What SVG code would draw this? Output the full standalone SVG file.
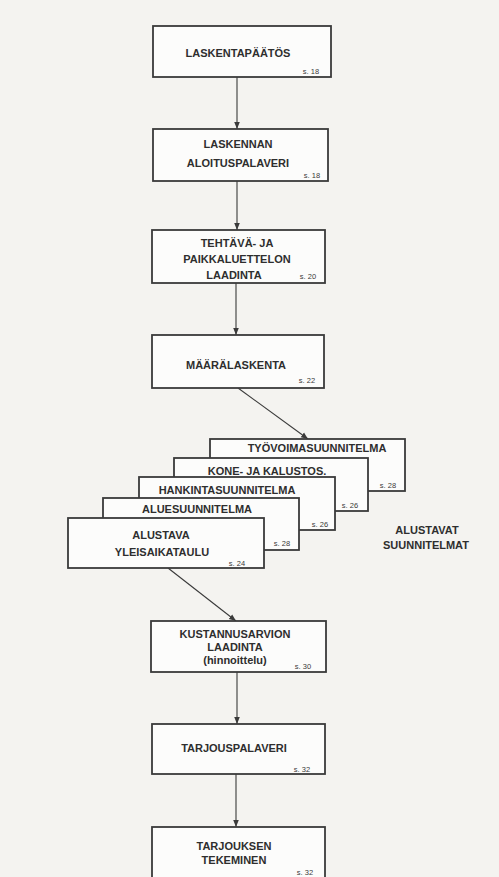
<svg xmlns="http://www.w3.org/2000/svg" width="499" height="877" viewBox="0 0 499 877">
<defs>
<style>
.bg{fill:#f4f3f0}
.box{fill:#fcfcfb;stroke:#3a3a3a;stroke-width:1.8}
.t{font-family:"Liberation Sans",Arial,sans-serif;font-weight:bold;font-size:11px;fill:#2e2e2e;text-anchor:middle}
.p{font-family:"Liberation Sans",Arial,sans-serif;font-size:7.5px;fill:#3a3a3a;text-anchor:middle}
.c{stroke:#3a3a3a;stroke-width:1.1;fill:none;marker-end:url(#ah)}
</style>
<marker id="ah" viewBox="0 0 10 10" refX="10" refY="5" markerWidth="7" markerHeight="7" orient="auto" markerUnits="userSpaceOnUse">
<path d="M0,1 L10,5 L0,9 z" fill="#3a3a3a"/>
</marker>
</defs>
<rect class="bg" x="0" y="0" width="499" height="877"/>

<g id="connectors">
<line class="c" x1="237" y1="77" x2="237" y2="129"/>
<line class="c" x1="237" y1="181" x2="237" y2="230"/>
<line class="c" x1="236" y1="283" x2="236" y2="335"/>
<path class="c" d="M238,388 L308,439"/>
<path class="c" d="M168,568 L236,621"/>
<line class="c" x1="237" y1="672" x2="237" y2="724"/>
<line class="c" x1="236" y1="774" x2="236" y2="827"/>
</g>

<g id="laskentapaatos">
<rect class="box" x="153" y="26" width="178" height="51"/>
<text class="t" x="238" y="57">LASKENTAPÄÄTÖS</text>
<text class="p" x="311" y="74">s. 18</text>
</g>

<g id="aloituspalaveri">
<rect class="box" x="153" y="129" width="175" height="52"/>
<text class="t" x="238" y="148">LASKENNAN</text>
<text class="t" x="238" y="167">ALOITUSPALAVERI</text>
<text class="p" x="312" y="178">s. 18</text>
</g>

<g id="tehtavaluettelo">
<rect class="box" x="152" y="230" width="173" height="53"/>
<text class="t" x="237" y="247">TEHTÄVÄ- JA</text>
<text class="t" x="237" y="263">PAIKKALUETTELON</text>
<text class="t" x="234" y="279">LAADINTA</text>
<text class="p" x="308" y="279">s. 20</text>
</g>

<g id="maaralaskenta">
<rect class="box" x="152" y="335" width="172" height="53"/>
<text class="t" x="236" y="369">MÄÄRÄLASKENTA</text>
<text class="p" x="307" y="383">s. 22</text>
</g>

<g id="tyovoimasuunnitelma">
<rect class="box" x="210" y="439" width="195" height="52"/>
<text class="t" x="317" y="452">TYÖVOIMASUUNNITELMA</text>
<text class="p" x="388" y="488">s. 28</text>
</g>

<g id="konejakalustos">
<rect class="box" x="174" y="458" width="194" height="53"/>
<text class="t" x="267" y="475">KONE- JA KALUSTOS.</text>
<text class="p" x="350" y="508">s. 26</text>
</g>

<g id="hankintasuunnitelma">
<rect class="box" x="139" y="477" width="196" height="53"/>
<text class="t" x="227" y="494">HANKINTASUUNNITELMA</text>
<text class="p" x="320" y="527">s. 26</text>
</g>

<g id="aluesuunnitelma">
<rect class="box" x="103" y="498" width="196" height="52"/>
<text class="t" x="197" y="513">ALUESUUNNITELMA</text>
<text class="p" x="282" y="546">s. 28</text>
</g>

<g id="yleisaikataulu">
<rect class="box" x="68" y="518" width="196" height="50"/>
<text class="t" x="161" y="539">ALUSTAVA</text>
<text class="t" x="162" y="556">YLEISAIKATAULU</text>
<text class="p" x="237" y="566">s. 24</text>
</g>

<g id="alustavat-label">
<text class="t" x="427" y="534">ALUSTAVAT</text>
<text class="t" x="426" y="549">SUUNNITELMAT</text>
</g>

<g id="kustannusarvio">
<rect class="box" x="151" y="621" width="175" height="51"/>
<text class="t" x="235" y="638">KUSTANNUSARVION</text>
<text class="t" x="235" y="651">LAADINTA</text>
<text class="t" x="235" y="664">(hinnoittelu)</text>
<text class="p" x="303" y="669">s. 30</text>
</g>

<g id="tarjouspalaveri">
<rect class="box" x="152" y="724" width="173" height="50"/>
<text class="t" x="234" y="752">TARJOUSPALAVERI</text>
<text class="p" x="302" y="772">s. 32</text>
</g>

<g id="tarjouksen-tekeminen">
<rect class="box" x="152" y="827" width="173" height="60"/>
<text class="t" x="234" y="850">TARJOUKSEN</text>
<text class="t" x="234" y="864">TEKEMINEN</text>
<text class="p" x="305" y="875">s. 32</text>
</g>
</svg>
